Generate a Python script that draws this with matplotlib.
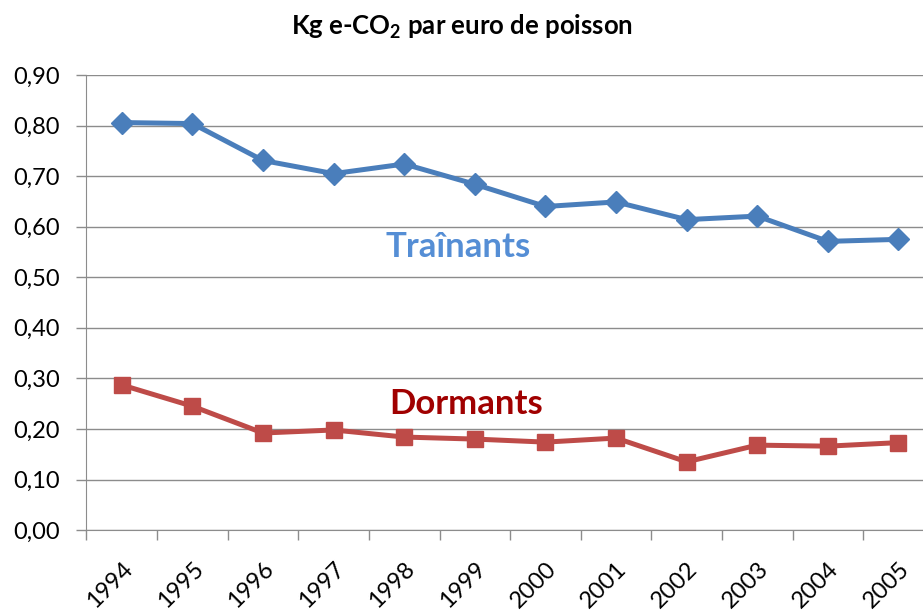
import matplotlib.pyplot as plt
import numpy as np

# Kg e-CO2 per euro of fish, 1994-2005
years = ['1994', '1995', '1996', '1997', '1998', '1999',
         '2000', '2001', '2002', '2003', '2004', '2005']
trainants = [0.806, 0.804, 0.731, 0.705, 0.724, 0.684,
             0.640, 0.649, 0.614, 0.621, 0.571, 0.575]
dormants = [0.287, 0.245, 0.192, 0.198, 0.184, 0.180,
            0.174, 0.182, 0.135, 0.168, 0.166, 0.173]

plt.rcParams['font.family'] = ['Lato', 'DejaVu Sans']

fig = plt.figure(figsize=(9.23, 6.10), dpi=100)
ax = fig.add_axes([0.0937, 0.131, 0.918, 0.746])

x = np.arange(len(years))
ax.plot(x, trainants, color='#4A7EBB', lw=3.6, marker='D', ms=11, zorder=3)
ax.plot(x, dormants, color='#BE4B48', lw=3.6, marker='s', ms=12, zorder=3)

ax.text(4.76, 0.56, 'Traînants', color='#558ED5', fontsize=25, fontweight='bold',
        ha='center', va='center')
ax.text(4.88, 0.249, 'Dormants', color='#A00000', fontsize=25, fontweight='bold',
        ha='center', va='center')

ax.set_xlim(-0.5, len(years) - 0.5)
ax.set_ylim(0, 0.9)
ticks = np.arange(0, 0.91, 0.1)
ax.set_yticks(ticks)
ax.set_yticklabels([f'{v:.2f}'.replace('.', ',') for v in ticks], fontsize=17)
ax.yaxis.grid(True, color='#8C8C8C', lw=1)
ax.set_axisbelow(True)

ax.set_xticks(x)
ax.set_xticklabels(years, rotation=45, ha='right', va='top',
                   rotation_mode='anchor', fontsize=17)
ax.tick_params(axis='x', length=0, pad=20)
ax.set_xticks(np.arange(-0.5, len(years)), minor=True)
ax.tick_params(axis='x', which='minor', length=7, color='#8C8C8C', width=1)
ax.tick_params(axis='y', length=7, color='#8C8C8C', width=1, pad=12)

for s in ['top', 'right']:
    ax.spines[s].set_visible(False)
for s in ['left', 'bottom']:
    ax.spines[s].set_color('#8C8C8C')

fig.text(0.5, 1 - 27 / 610, 'Kg e-CO$\\mathregular{_2}$ par euro de poisson',
         ha='center', va='center', fontsize=18.5, fontweight='bold')

fig.savefig('out.png', dpi=100)
